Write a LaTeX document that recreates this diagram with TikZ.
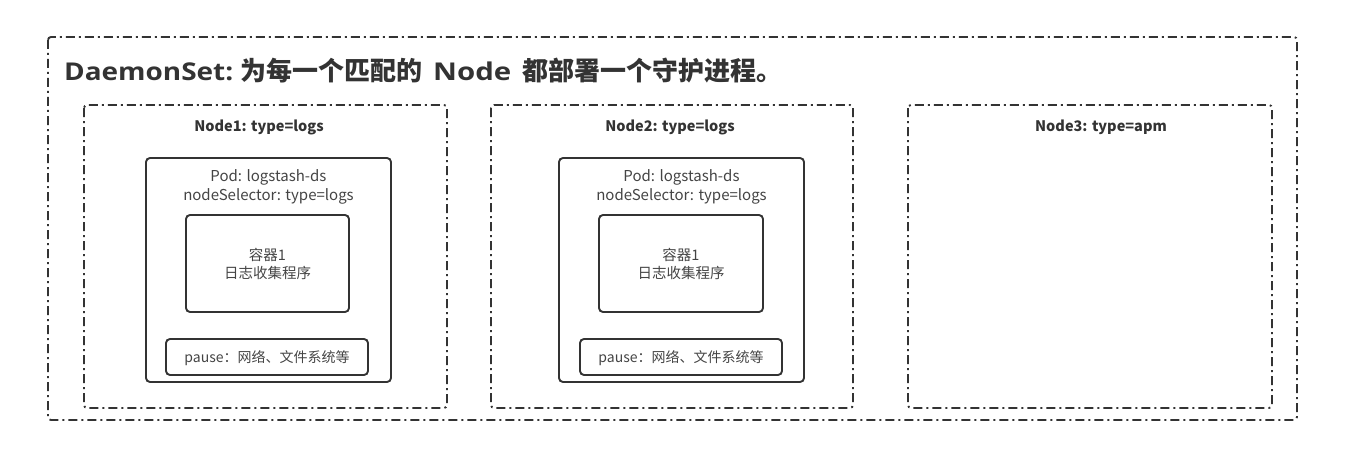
\documentclass[tikz,border=0pt]{standalone}
\usepackage{fontspec}
\setmainfont{Noto Sans CJK SC}
\newfontfamily\latfont{Open Sans}
\definecolor{ink}{HTML}{333333}
\definecolor{txt}{HTML}{444444}
\begin{document}
\begin{tikzpicture}[x=1pt,y=-1pt,
  ddot/.style={draw=ink,line width=1.9pt,rounded corners=3pt,
    dash pattern=on 9pt off 4pt on 2pt off 4pt},
  solidbox/.style={draw=ink,line width=1.9pt,rounded corners=4pt},
  nodelabel/.style={font=\bfseries\fontsize{14.5}{17}\selectfont,text=ink,inner sep=0pt},
  podtext/.style={font=\fontsize{15}{19}\selectfont,text=txt,align=center,inner sep=0pt},
  boxtext/.style={font=\fontsize{14.5}{18.5}\selectfont,text=txt,align=center,inner sep=0pt},
  pausetext/.style={font=\fontsize{14}{18}\selectfont,text=txt,inner sep=0pt}]
\useasboundingbox (0,0) rectangle (1361,452);
% outer DaemonSet frame
\draw[ddot] (48,37) rectangle (1297,420);
\node[anchor=base west,inner sep=0pt,text=ink,font=\bfseries\fontsize{26}{30}\selectfont] (title) at (64,81)
  {\makebox[176pt][l]{\latfont\fontsize{24.5}{30}\selectfont\scalebox{1.14}[1]{DaemonSet:}}%
   为每一个匹配的\makebox[100pt][c]{\latfont\fontsize{24.5}{30}\selectfont\scalebox{1.2}[1]{Node}}%
   都部署一个守护进程。};
% Node frames
\draw[ddot] (84,105) rectangle (447,408);
\draw[ddot] (491,105) rectangle (853,408);
\draw[ddot] (908,105) rectangle (1272,408);
\node[nodelabel] (n1) at (259,127) {Node1: type=logs};
\node[nodelabel] (n2) at (670,127) {Node2: type=logs};
\node[nodelabel] (n3) at (1101,127) {Node3: type=apm};
% Node1 pod
\draw[solidbox] (146,158) rectangle (391,382);
\node[podtext] (p1) at (268.5,186.5) {Pod: logstash-ds\\nodeSelector: type=logs};
\draw[solidbox] (186,215) rectangle (349,312);
\node[boxtext] (c1) at (267.5,264) {容器1\\日志收集程序};
\draw[solidbox] (166,339) rectangle (368,375);
\node[pausetext] (s1) at (267,358) {pause：网络、文件系统等};
% Node2 pod
\draw[solidbox] (559,158) rectangle (804,382);
\node[podtext] (p2) at (681.5,186.5) {Pod: logstash-ds\\nodeSelector: type=logs};
\draw[solidbox] (599,215) rectangle (763,312);
\node[boxtext] (c2) at (681,264) {容器1\\日志收集程序};
\draw[solidbox] (580,339) rectangle (782,375);
\node[pausetext] (s2) at (681,358) {pause：网络、文件系统等};
\end{tikzpicture}
\end{document}
